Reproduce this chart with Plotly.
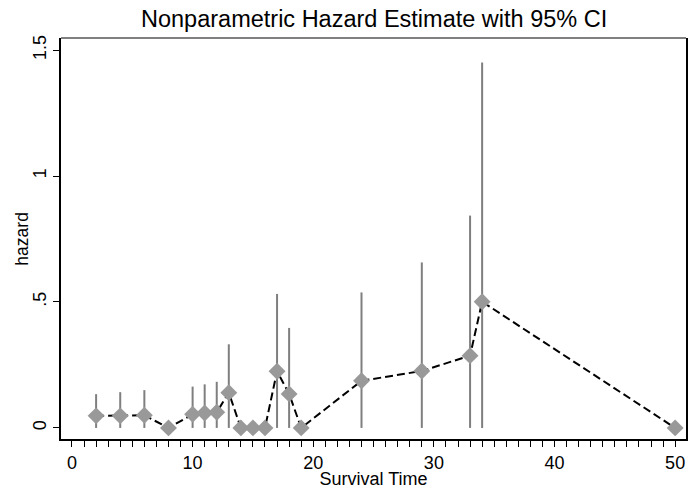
import plotly.graph_objects as go

time = [2, 4, 6, 8, 10, 11, 12, 13, 14, 15, 16, 17, 18, 19, 24, 29, 33, 34, 50]
hazard = [0.048, 0.048, 0.050, 0.0, 0.054, 0.059, 0.062, 0.140, 0.0, 0.0, 0.0,
          0.225, 0.135, 0.0, 0.187, 0.226, 0.287, 0.501, 0.0]
ci_low = [0.0] * 19
ci_high = [0.134, 0.142, 0.150, 0.0, 0.164, 0.173, 0.183, 0.332, 0.0, 0.0, 0.0,
           0.532, 0.397, 0.0, 0.538, 0.657, 0.843, 1.451, 0.0]

ci_x, ci_y = [], []
for t, lo, hi in zip(time, ci_low, ci_high):
    if hi > lo:
        ci_x += [t, t, None]
        ci_y += [lo, hi, None]

fig = go.Figure()
fig.add_trace(go.Scatter(x=ci_x, y=ci_y, mode="lines",
                         line=dict(color="#7f7f7f", width=2), hoverinfo="skip"))
fig.add_trace(go.Scatter(x=time, y=hazard, mode="lines",
                         line=dict(color="black", width=2, dash="8px,4px")))
fig.add_trace(go.Scatter(x=time, y=hazard, mode="markers",
                         marker=dict(symbol="diamond", size=13, color="#999999",
                                     line=dict(width=0))))

font = "Liberation Sans, Arial, sans-serif"
fig.update_layout(
    width=689, height=489,
    margin=dict(l=61, r=1, t=38, b=50),
    paper_bgcolor="white", plot_bgcolor="white",
    showlegend=False,
    font=dict(family=font, color="black"),
    title=dict(text="Nonparametric Hazard Estimate with 95% CI",
               x=0.543, xanchor="center", y=0.962, yanchor="middle",
               font=dict(size=23.5, family=font, color="black")),
    xaxis=dict(range=[-0.91, 50.9], tickvals=[0, 10, 20, 30, 40, 50],
               ticks="outside", ticklen=6, tickcolor="black", tickwidth=1,
               minor=dict(dtick=1, ticks="outside", ticklen=6, tickcolor="black", tickwidth=1),
               showgrid=False, zeroline=False, showline=True, linecolor="black", linewidth=2,
               tickfont=dict(size=18), title=dict(text="Survival Time", font=dict(size=18), standoff=0)),
    yaxis=dict(range=[-0.044, 1.548], tickvals=[0, 0.5, 1, 1.5], ticktext=["0", ".5", "1", "1.5"],
               tickangle=-90, ticks="outside", ticklen=6, tickcolor="black", tickwidth=1,
               showgrid=False, zeroline=False, showline=True, linecolor="black", linewidth=2,
               mirror=True, tickfont=dict(size=18)),
    annotations=[dict(text="hazard", xref="paper", yref="paper", x=-0.0638, y=0.5,
                      xanchor="center", yanchor="middle", textangle=-90, showarrow=False,
                      font=dict(size=17.5, family=font, color="black"))],
    shapes=[dict(type="line", xref="paper", yref="paper", x0=0, x1=1, y0=1, y1=1,
                 line=dict(color="#808080", width=2))],
)
fig.write_html("out.html")
